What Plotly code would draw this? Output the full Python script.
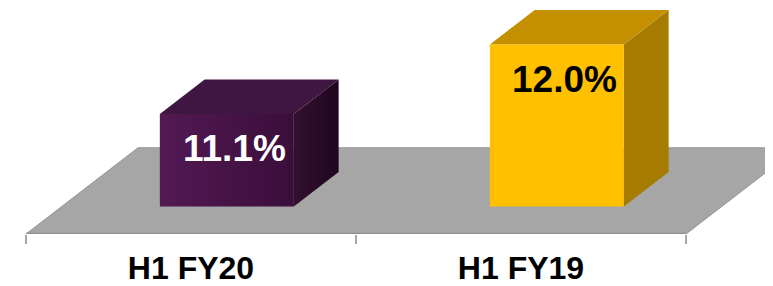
import plotly.graph_objects as go

# ---- data ----
categories = ["H1 FY20", "H1 FY19"]
values = [11.1, 12.0]
value_labels = ["11.1%", "12.0%"]

# ---- scale / style ----
AXIS_MIN = 9.9          # value at the floor
AXIS_MAX = 12.831
X_RANGE = [-0.0545, 2.2636]
DEPTH_X = 0.3394        # category units per full depth
DEPTH_Y = 1.118         # value units per full depth
BAR_D0, BAR_D1 = 0.32, 0.72
BAR_HALF = 0.203

front_colors = [["#531953", "#3a0e3b"], ["#FFC000", "#FFC000"]]
top_colors = ["#3f1541", "#C48F00"]
side_colors = [["#33102f", "#1f061f"], ["#A67C00", "#A67C00"]]
label_colors = ["white", "black"]
FONT = "Liberation Sans, Arial, sans-serif"


def proj(x, v, d):
    return x + DEPTH_X * d, v + DEPTH_Y * d


def poly(pts):
    xs, ys = zip(*[proj(*p) for p in pts])
    return list(xs) + [xs[0]], list(ys) + [ys[0]]


fig = go.Figure()

n = len(categories)
# floor
fx, fy = poly([(0, AXIS_MIN, 0), (n, AXIS_MIN, 0), (n, AXIS_MIN, 1), (0, AXIS_MIN, 1)])
fig.add_trace(go.Scatter(x=fx, y=fy, mode="lines", fill="toself",
                         fillcolor="#a6a6a6", line=dict(color="#949494", width=1),
                         hoverinfo="skip", showlegend=False))
# front edge of the floor
fig.add_trace(go.Scatter(x=[0, n], y=[AXIS_MIN, AXIS_MIN], mode="lines",
                         line=dict(color="#8f8f8f", width=2.5),
                         hoverinfo="skip", showlegend=False, cliponaxis=False))

for i, v in enumerate(values):
    xl, xr = i + 0.5 - BAR_HALF, i + 0.5 + BAR_HALF
    # side face
    sx, sy = poly([(xr, AXIS_MIN, BAR_D0), (xr, AXIS_MIN, BAR_D1), (xr, v, BAR_D1), (xr, v, BAR_D0)])
    fig.add_trace(go.Scatter(x=sx, y=sy, mode="lines", fill="toself",
                             fillgradient=dict(type="horizontal",
                                               colorscale=[[0, side_colors[i][0]], [1, side_colors[i][1]]]),
                             line=dict(width=0), hoverinfo="skip", showlegend=False))
    # top face
    tx, ty = poly([(xl, v, BAR_D0), (xr, v, BAR_D0), (xr, v, BAR_D1), (xl, v, BAR_D1)])
    fig.add_trace(go.Scatter(x=tx, y=ty, mode="lines", fill="toself",
                             fillcolor=top_colors[i],
                             line=dict(width=0), hoverinfo="skip", showlegend=False))
    # front face
    qx, qy = poly([(xl, AXIS_MIN, BAR_D0), (xr, AXIS_MIN, BAR_D0), (xr, v, BAR_D0), (xl, v, BAR_D0)])
    fig.add_trace(go.Scatter(x=qx, y=qy, mode="lines", fill="toself",
                             fillgradient=dict(type="horizontal",
                                               colorscale=[[0, front_colors[i][0]], [1, front_colors[i][1]]]),
                             line=dict(width=0), hoverinfo="skip", showlegend=False))
    cx, cy = proj(i + 0.5, v, BAR_D0)
    fig.add_annotation(x=cx, y=cy, xref="x", yref="y", text=f"<b>{value_labels[i]}</b>",
                       showarrow=False, xanchor="center", yanchor="middle",
                       xshift=8, yshift=-35,
                       font=dict(family=FONT, size=37, color=label_colors[i]))

fig.update_layout(
    width=765, height=278,
    margin=dict(l=0, r=0, t=0, b=50),
    paper_bgcolor="white", plot_bgcolor="white",
    showlegend=False,
    font=dict(family=FONT),
)
fig.update_xaxes(range=X_RANGE, showgrid=False, zeroline=False,
                 tickvals=[k + 0.5 for k in range(n)], ticktext=[f"<b>{c}</b>" for c in categories],
                 ticks="", tickfont=dict(family=FONT, size=32, color="black"),
                 showline=False,
                 ticklabelstandoff=12,
                 minor=dict(tickvals=list(range(n + 1)), ticks="outside", ticklen=9,
                            tickcolor="#a6a6a6", tickwidth=1.5, showgrid=False))
fig.update_yaxes(range=[AXIS_MIN, AXIS_MAX], showgrid=False, zeroline=False,
                 showticklabels=False, ticks="", showline=False)

fig.write_html("out.html")
